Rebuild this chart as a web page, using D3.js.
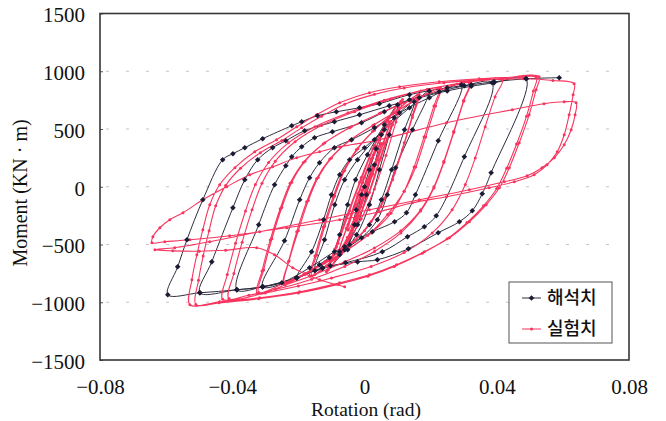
<!DOCTYPE html>
<html>
<head>
<meta charset="utf-8">
<script src="https://cdnjs.cloudflare.com/ajax/libs/d3/7.8.5/d3.min.js"></script>
<style>
  body { margin: 0; background: #fff; }
  svg { display: block; }
  .tick text { font-family: "Liberation Serif", serif; font-size: 21px; fill: #111; }
</style>
</head>
<body>
<div id="chart"></div>
<script>
// axis ticks and legend names
var xTicks = [-0.08, -0.04, 0, 0.04, 0.08],
    yTicks = [-1500, -1000, -500, 0, 500, 1000, 1500],
    gridTicks = [-1000, -500, 0, 500, 1000],
    seriesNames = ["해석치", "실험치"];

// analysis (black) : [rotation rad, moment kN·m]
var analysisData = [
  [0, 0], [-0.0025, -200], [-0.0051, -545],
  [-0.003, -329], [-0.0009, -69], [0.0015, 147], [0.0035, 330], [0.0051, 450],
  [0.003, 190], [0.0006, -69], [-0.0021, -329], [-0.006, -545], [-0.0103, -684],
  [-0.0075, -416], [-0.0051, -156], [-0.0027, 61], [0.0009, 277], [0.006, 537], [0.01, 710],
  [0.0075, 450], [0.0045, 147], [0.0015, -156], [-0.0024, -416], [-0.0075, -589], [-0.015, -727],
  [-0.0121, -459], [-0.009, -156], [-0.006, 61], [-0.0021, 234], [0.003, 407], [0.009, 597], [0.015, 736],
  [0.0121, 494], [0.0082, 147], [0.0051, -113], [0.0015, -329], [-0.0045, -502], [-0.0106, -615], [-0.0205, -788],
  [-0.016, -563], [-0.0124, -286], [-0.01, -69], [-0.0075, 104], [-0.0045, 234], [0, 338], [0.006, 494], [0.0136, 684], [0.0196, 830],
  [0.0145, 494], [0.0094, 165], [0.0069, -69], [0.0039, -286], [-0.0009, -442], [-0.0075, -563], [-0.0136, -675], [-0.0205, -788], [-0.0308, -866],
  [-0.0242, -468], [-0.0196, -113], [-0.0166, 78], [-0.0136, 208], [-0.0091, 338], [-0.0039, 407], [0.003, 511], [0.0106, 641], [0.0196, 771], [0.0293, 883],
  [0.0223, 398], [0.0154, -69], [0.0127, -225], [0.0091, -303], [0.0024, -390], [-0.006, -519], [-0.0091, -563], [-0.0166, -701], [-0.025, -831], [-0.0308, -866], [-0.0386, -892],
  [-0.032, -329], [-0.0272, 17], [-0.0238, 182], [-0.022, 260], [-0.019, 346], [-0.0151, 424], [-0.0097, 476], [-0.0009, 554], [0.006, 649], [0.0136, 753], [0.0226, 823], [0.0302, 874], [0.0386, 900],
  [0.0302, 260], [0.0217, -251], [0.0181, -346], [0.013, -433], [0.0054, -563], [-0.0057, -658], [-0.0127, -701], [-0.0205, -788], [-0.0308, -866], [-0.0386, -892], [-0.0498, -918],
  [-0.0462, -650], [-0.0398, -182], [-0.0362, 61], [-0.0323, 234], [-0.0278, 338], [-0.0238, 398], [-0.0181, 485], [-0.0091, 563], [-0.0015, 623], [0.0075, 701], [0.0166, 771], [0.025, 830], [0.0323, 870], [0.0392, 900], [0.0489, 935],
  [0.0383, 121], [0.0356, -61], [0.0326, -208], [0.0287, -303], [0.0223, -398], [0.0133, -537], [0.0039, -632], [-0.0021, -650], [-0.0127, -705], [-0.0205, -790], [-0.0308, -866], [-0.0386, -892], [-0.0498, -918], [-0.0595, -935],
  [-0.0565, -693], [-0.0537, -459], [-0.0489, -113], [-0.0429, 234], [-0.0398, 286], [-0.0362, 338], [-0.0308, 416], [-0.022, 528], [-0.019, 563], [-0.0142, 615], [-0.0085, 649], [-0.0015, 684], [0.0045, 719], [0.0136, 797], [0.025, 857], [0.0323, 883], [0.0392, 909], [0.0489, 935], [0.0589, 944]
];

// test (red) : [rotation rad, moment kN·m]
var testData = [
  [0, 0], [0.0025, 175], [0.0008, 40], [-0.0008, -60], [-0.0025, -180], [-0.0008, -30], [0.0008, 60], [0.0025, 180],
  [0.0012, 50], [-0.001, -120], [-0.003, -270], [-0.005, -370], [-0.0028, -160], [-0.0005, 40], [0.0025, 250], [0.005, 370],
  [0.0028, 180], [0.0005, -30], [-0.0025, -250], [-0.005, -375], [-0.0027, -150], [0, 80], [0.0028, 280], [0.005, 375],
  [0.0032, 200], [0.0005, -50], [-0.002, -250], [-0.0052, -460], [-0.0075, -545], [-0.005, -330], [-0.002, -80], [0.002, 220], [0.0052, 450], [0.0075, 550],
  [0.0055, 370], [0.002, 90], [-0.002, -220], [-0.0052, -440], [-0.0078, -560], [-0.0055, -360], [-0.002, -60], [0.002, 240], [0.0055, 470], [0.0078, 565],
  [0.0058, 380], [0.0025, 110], [-0.001, -170], [-0.005, -440], [-0.0085, -620], [-0.0105, -700], [-0.008, -490], [-0.0045, -210], [-0.001, 80], [0.003, 360], [0.007, 580], [0.0105, 720],
  [0.008, 520], [0.0045, 230], [0.001, -70], [-0.003, -340], [-0.007, -560], [-0.011, -720], [-0.0085, -520], [-0.005, -240], [-0.001, 60], [0.003, 350], [0.0075, 600], [0.011, 740],
  [0.0085, 540], [0.005, 250], [0.0015, -50], [-0.0025, -320], [-0.007, -570], [-0.0115, -735], [-0.009, -540], [-0.0055, -260], [-0.0015, 40], [0.0025, 330], [0.007, 570], [0.0115, 755],
  [0.0095, 560], [0.0065, 270], [0.003, -20], [-0.001, -280], [-0.006, -520], [-0.011, -680], [-0.016, -770],
  [-0.0145, -590], [-0.012, -340], [-0.009, -80], [-0.006, 140], [-0.002, 330], [0.003, 490], [0.009, 640], [0.016, 790],
  [0.0145, 620], [0.012, 380], [0.009, 120], [0.006, -100], [0.002, -300], [-0.003, -470], [-0.009, -620], [-0.0165, -775],
  [-0.015, -600], [-0.0125, -350], [-0.0095, -90], [-0.0065, 130], [-0.0025, 320], [0.0025, 480], [0.0085, 630], [0.0165, 800],
  [0.0145, 600], [0.0115, 320], [0.0085, 60], [0.005, -170], [0, -380], [-0.006, -530], [-0.012, -650], [-0.018, -750], [-0.0242, -830],
  [-0.0228, -640], [-0.02, -380], [-0.017, -120], [-0.014, 80], [-0.01, 250], [-0.004, 410], [0.003, 540], [0.01, 660], [0.016, 760], [0.0226, 850],
  [0.021, 700], [0.018, 430], [0.015, 170], [0.012, -40], [0.008, -230], [0.002, -400], [-0.005, -540], [-0.012, -660], [-0.018, -760], [-0.0245, -840],
  [-0.023, -650], [-0.0205, -390], [-0.0175, -130], [-0.0145, 70], [-0.0105, 240], [-0.0045, 400], [0.0025, 530], [0.0095, 650], [0.016, 755], [0.023, 855],
  [0.0215, 700], [0.0185, 430], [0.0155, 170], [0.012, -40], [0.007, -240], [0.001, -420], [-0.007, -580], [-0.015, -710], [-0.024, -830], [-0.032, -915],
  [-0.0305, -720], [-0.028, -450], [-0.025, -180], [-0.022, 40], [-0.018, 220], [-0.012, 380], [-0.004, 520], [0.005, 640], [0.014, 750], [0.023, 840], [0.0317, 900],
  [0.03, 750], [0.027, 480], [0.024, 220], [0.021, 0], [0.017, -200], [0.011, -380], [0.003, -530], [-0.006, -650], [-0.015, -760], [-0.024, -850], [-0.0325, -925],
  [-0.031, -730], [-0.0285, -460], [-0.0255, -190], [-0.0225, 30], [-0.0185, 210], [-0.0125, 370], [-0.0045, 510], [0.0045, 635], [0.0135, 745], [0.0225, 835], [0.032, 905],
  [0.03, 740], [0.027, 470], [0.024, 210], [0.021, -10], [0.017, -210], [0.011, -400], [0.003, -560], [-0.006, -690], [-0.016, -800], [-0.027, -890], [-0.035, -940], [-0.0429, -975],
  [-0.0415, -760], [-0.039, -490], [-0.036, -210], [-0.033, 20], [-0.029, 210], [-0.023, 380], [-0.015, 520], [-0.005, 640], [0.006, 750], [0.017, 830], [0.028, 890], [0.0417, 930],
  [0.0395, 780], [0.0365, 520], [0.0335, 250], [0.0305, 20], [0.0265, -200], [0.0205, -400], [0.012, -570], [0.002, -690], [-0.01, -790], [-0.02, -860], [-0.03, -920], [-0.041, -968],
  [-0.0395, -750], [-0.037, -480], [-0.034, -200], [-0.031, 30], [-0.027, 220], [-0.021, 390], [-0.013, 530], [-0.003, 650], [0.008, 760], [0.019, 845], [0.03, 900], [0.041, 935], [0.0528, 952],
  [0.0519, 840], [0.0498, 623], [0.0468, 381], [0.0438, 165], [0.0408, -9], [0.0368, -156], [0.0317, -303], [0.0257, -442], [0.0181, -563], [0.0097, -675], [0.0015, -762], [-0.0075, -831], [-0.0196, -909], [-0.0317, -961], [-0.0438, -996], [-0.0528, -1022],
  [-0.0522, -805], [-0.0507, -589], [-0.0489, -372], [-0.0468, -156], [-0.0438, 17], [-0.0392, 165], [-0.0332, 303], [-0.0266, 407], [-0.0205, 519], [-0.0145, 623], [-0.0075, 727], [0.0015, 814], [0.0106, 866], [0.0226, 909], [0.0347, 935], [0.0468, 950], [0.052, 948],
  [0.0511, 830], [0.049, 610], [0.046, 370], [0.043, 160], [0.04, -15], [0.036, -165], [0.031, -310], [0.025, -450], [0.0175, -575], [0.009, -690], [0.001, -775], [-0.008, -845], [-0.02, -920], [-0.032, -970], [-0.044, -1005], [-0.051, -1020],
  [-0.0502, -810], [-0.0488, -600], [-0.047, -380], [-0.045, -165], [-0.042, 10], [-0.0375, 160], [-0.0315, 295], [-0.025, 400], [-0.019, 510], [-0.013, 610], [-0.006, 715], [0.003, 800], [0.012, 855], [0.024, 900], [0.036, 925], [0.048, 935], [0.057, 920], [0.0634, 892],
  [0.0631, 797], [0.0619, 623], [0.0604, 450], [0.0583, 303], [0.0552, 190], [0.0513, 104], [0.0453, 43], [0.0377, -9], [0.0248, -87], [0.0145, -139], [0.0045, -216], [-0.0075, -286], [-0.0235, -355], [-0.0408, -424], [-0.0528, -459], [-0.0604, -476], [-0.0643, -485],
  [-0.064, -433], [-0.0619, -355], [-0.0589, -286], [-0.0549, -225], [-0.0489, -113], [-0.0417, 0], [-0.0347, 104], [-0.0278, 173], [-0.0205, 251], [-0.0136, 303], [-0.0075, 346], [0.0045, 407], [0.0248, 554], [0.0447, 667], [0.0543, 719], [0.0604, 736], [0.064, 727],
  [0.0637, 623], [0.0625, 494], [0.0604, 364], [0.0574, 251], [0.0537, 165], [0.0492, 95], [0.0423, 43], [0.0317, -26], [0.0166, -113], [0.0015, -199], [-0.0136, -286], [-0.0317, -390], [-0.0468, -476], [-0.0574, -528], [-0.0634, -545],
  [-0.058, -555], [-0.05, -558], [-0.042, -550], [-0.0326, -528], [-0.0272, -589], [-0.0217, -701], [-0.0136, -805], [-0.006, -866]
];

var W = 666, H = 421,
    plotL = 100, plotR = 629, plotT = 13.5, plotB = 360,
    black = "#2e2e40", red = "#f7355f";

var svg = d3.select("#chart").append("svg").attr("width", W).attr("height", H);

var x = d3.scaleLinear().domain([-0.08, 0.08]).range([plotL, plotR]),
    y = d3.scaleLinear().domain([-1500, 1500]).range([plotB, plotT]);

function minus(v, digits) {
  if (v === 0) return "0";
  return (v < 0 ? "\u2212" : "") + Math.abs(v).toFixed(digits);
}

// dashed grid
svg.append("g").selectAll("line").data(gridTicks).enter().append("line")
  .attr("x1", plotL + 6).attr("x2", plotR - 4)
  .attr("y1", function (d) { return y(d); }).attr("y2", function (d) { return y(d); })
  .attr("stroke", "#c4c4c4").attr("stroke-width", 1).attr("stroke-dasharray", "3,17");

// axes
var yAxis = d3.axisLeft(y).tickValues(yTicks).tickSize(-3).tickPadding(15)
  .tickFormat(function (d) { return minus(d, 0); });
var gy = svg.append("g").attr("transform", "translate(" + plotL + ",0)").call(yAxis);
gy.select(".domain").remove();
gy.selectAll(".tick line").attr("stroke", "#555");
gy.selectAll(".tick text").attr("dy", "0.4em");

var xAxis = d3.axisBottom(x).tickValues(xTicks).tickSize(0).tickPadding(19)
  .tickFormat(function (d) { return minus(d, 2); });
var gx = svg.append("g").attr("transform", "translate(0," + plotB + ")").call(xAxis);
gx.select(".domain").remove();

// frame
svg.append("rect").attr("x", plotL).attr("y", plotT)
  .attr("width", plotR - plotL).attr("height", plotB - plotT)
  .attr("fill", "none").attr("stroke", "#3a3535").attr("stroke-width", 1.6);

// axis titles
svg.append("text").attr("x", 366).attr("y", 416).attr("text-anchor", "middle")
  .attr("font-family", "Liberation Serif, serif").attr("font-size", 19.5).attr("fill", "#111")
  .text("Rotation (rad)");
svg.append("text").attr("transform", "translate(27,193) rotate(-90)").attr("text-anchor", "middle")
  .attr("font-family", "Liberation Serif, serif").attr("font-size", 20).attr("fill", "#111")
  .text("Moment (KN \u00b7 m)");

var line = d3.line()
  .x(function (d) { return x(d[0]); })
  .y(function (d) { return y(d[1]); })
  .curve(d3.curveCatmullRom.alpha(0.5));

var diamond = d3.symbol().type(d3.symbolDiamond2).size(20);

// analysis line
svg.append("path").datum(analysisData).attr("d", line)
  .attr("fill", "none").attr("stroke", black).attr("stroke-width", 1);

// test line + dots
svg.append("path").datum(testData).attr("d", line)
  .attr("fill", "none").attr("stroke", red).attr("stroke-width", 1.1);
svg.append("g").selectAll("circle").data(testData).enter().append("circle")
  .attr("cx", function (d) { return x(d[0]); }).attr("cy", function (d) { return y(d[1]); })
  .attr("r", 1.5).attr("fill", red);

// analysis diamonds
svg.append("g").selectAll("path").data(analysisData).enter().append("path")
  .attr("d", diamond)
  .attr("transform", function (d) { return "translate(" + x(d[0]) + "," + y(d[1]) + ")"; })
  .attr("fill", "#1b1b35");

// legend
var lg = svg.append("g");
lg.append("rect").attr("x", 509).attr("y", 282).attr("width", 103).attr("height", 61)
  .attr("fill", "#fff").attr("stroke", "#555").attr("stroke-width", 1);
var items = lg.selectAll("g.item").data(seriesNames).enter().append("g")
  .attr("transform", function (d, i) { return "translate(0," + (298 + i * 31) + ")"; });
items.append("line").attr("x1", 522).attr("x2", 541).attr("y1", 0).attr("y2", 0)
  .attr("stroke", function (d, i) { return i ? red : black; }).attr("stroke-width", 1);
items.each(function (d, i) {
  var g = d3.select(this);
  if (i === 0) g.append("path").attr("d", diamond).attr("transform", "translate(531.5,0)").attr("fill", "#1b1b35");
  else g.append("circle").attr("cx", 531.5).attr("cy", 0).attr("r", 1.5).attr("fill", red);
});
items.append("text").attr("x", 547).attr("y", 0).attr("dy", "0.36em")
  .attr("font-family", "Noto Sans CJK KR, sans-serif").attr("font-size", 18).attr("font-weight", 500)
  .attr("fill", "#111").text(function (d) { return d; });
</script>
</body>
</html>
